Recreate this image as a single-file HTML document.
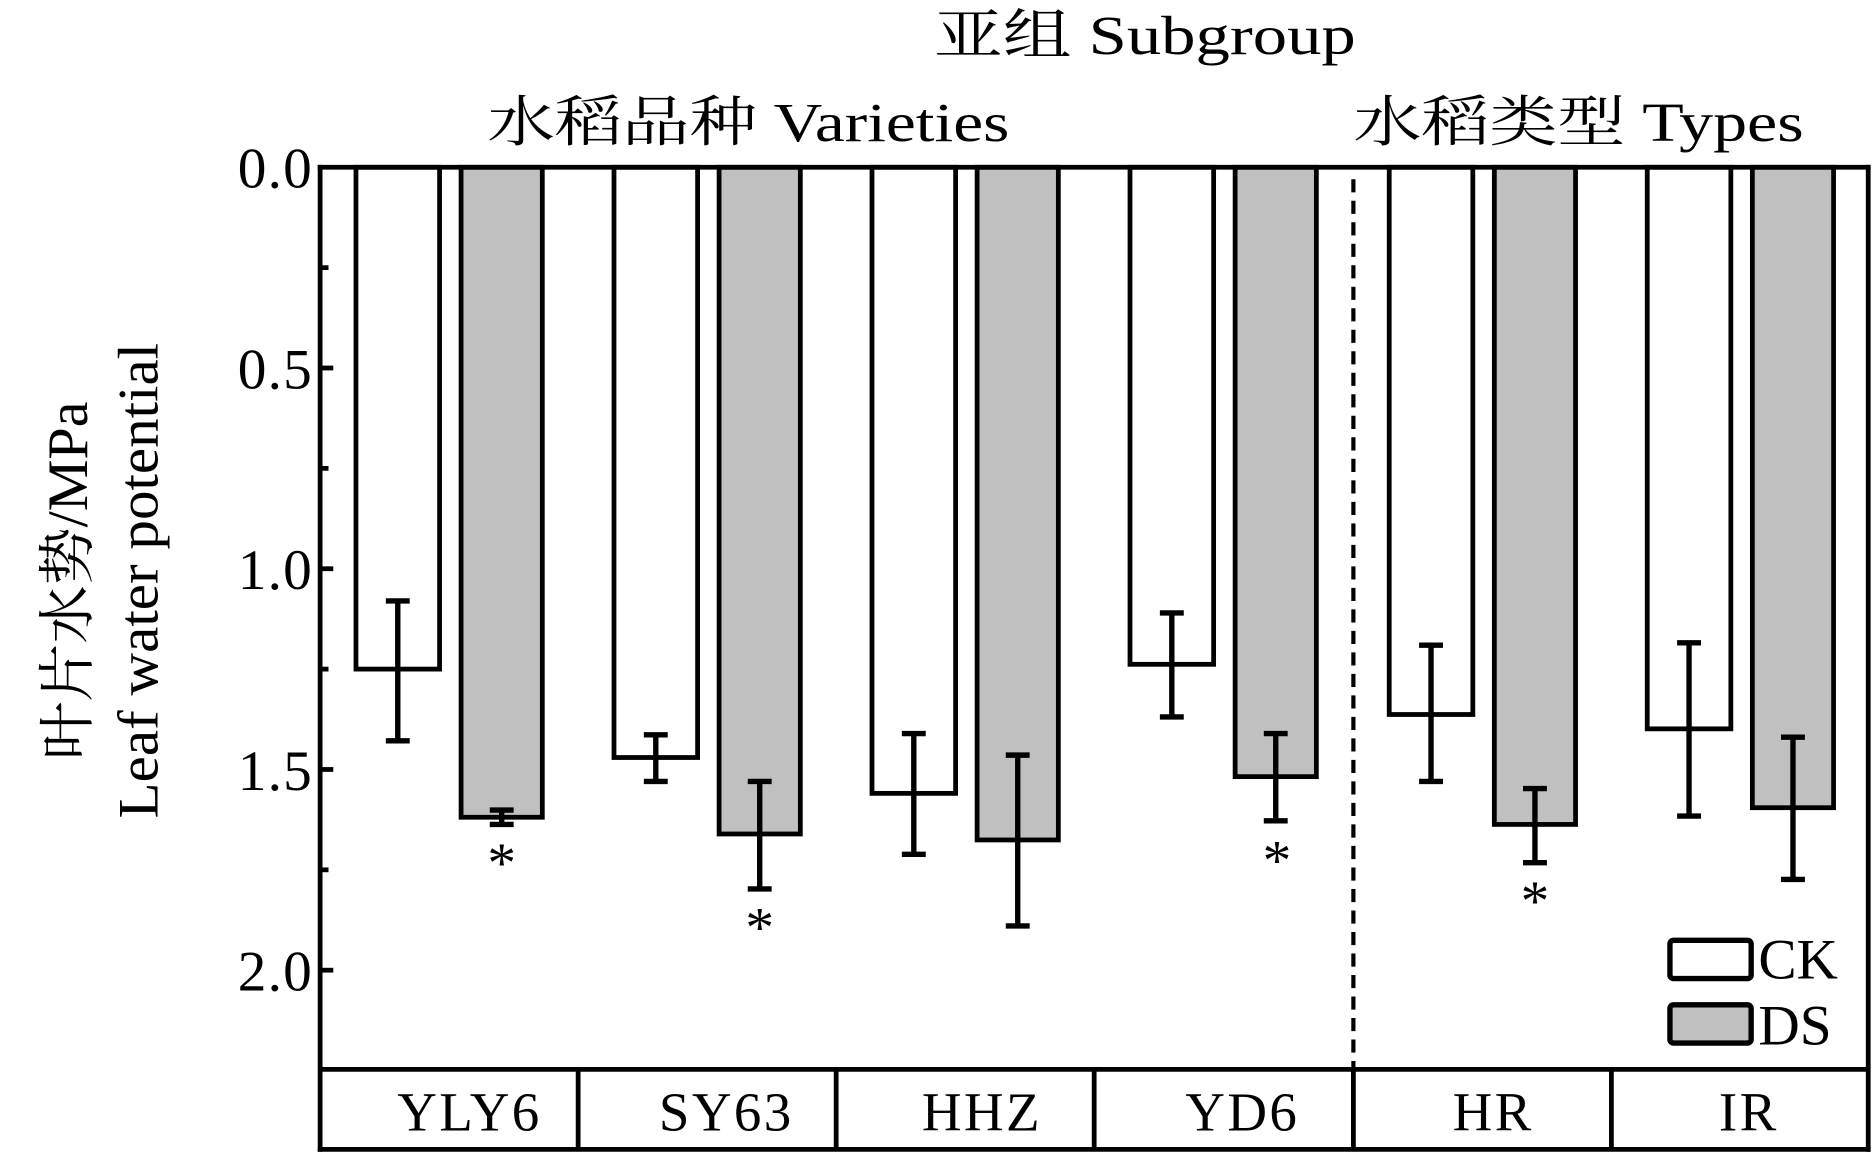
<!DOCTYPE html>
<html><head><meta charset="utf-8"><style>
html,body{margin:0;padding:0;background:#fff;}
svg{display:block;}
text{font-family:"Liberation Serif","Noto Serif CJK SC",serif;fill:#000;}
</style></head><body>
<svg width="1873" height="1153" viewBox="0 0 1568 965" preserveAspectRatio="none" xmlns="http://www.w3.org/2000/svg">
<rect width="1568" height="965" fill="#fff"/>
<text x="782" y="45" font-size="46" textLength="353" lengthAdjust="spacingAndGlyphs">亚组 Subgroup</text>
<text x="408" y="118" font-size="46" textLength="437" lengthAdjust="spacingAndGlyphs">水稻品种 Varieties</text>
<text x="1133" y="118" font-size="46" textLength="377" lengthAdjust="spacingAndGlyphs">水稻类型 Types</text>
<text transform="translate(73,486) rotate(-90)" font-size="48" text-anchor="middle" textLength="300" lengthAdjust="spacingAndGlyphs">叶片水势/MPa</text>
<text transform="translate(132,486) rotate(-90)" font-size="48" text-anchor="middle" textLength="398" lengthAdjust="spacingAndGlyphs">Leaf water potential</text>
<g font-size="48" text-anchor="end" letter-spacing="1">
<text x="262" y="157">0.0</text>
<text x="262" y="325">0.5</text>
<text x="262" y="493">1.0</text>
<text x="262" y="661">1.5</text>
<text x="262" y="829">2.0</text>
</g>
<g stroke="#000" stroke-width="4" fill="none">
<line x1="268" y1="308" x2="279" y2="308"/>
<line x1="268" y1="476" x2="279" y2="476"/>
<line x1="268" y1="644" x2="279" y2="644"/>
<line x1="268" y1="812" x2="279" y2="812"/>
<line x1="268" y1="224" x2="275" y2="224"/>
<line x1="268" y1="392" x2="275" y2="392"/>
<line x1="268" y1="560" x2="275" y2="560"/>
<line x1="268" y1="728" x2="275" y2="728"/>
</g>
<g stroke="#000" stroke-width="4">
<rect x="298" y="140" width="70" height="420" fill="#fff"/>
<rect x="386" y="140" width="68" height="544" fill="#c0c0c0"/>
<rect x="514" y="140" width="70" height="494" fill="#fff"/>
<rect x="602" y="140" width="68" height="558" fill="#c0c0c0"/>
<rect x="730" y="140" width="70" height="524" fill="#fff"/>
<rect x="818" y="140" width="68" height="563" fill="#c0c0c0"/>
<rect x="946" y="140" width="70" height="416" fill="#fff"/>
<rect x="1034" y="140" width="68" height="510" fill="#c0c0c0"/>
<rect x="1163" y="140" width="70" height="458" fill="#fff"/>
<rect x="1251" y="140" width="68" height="550" fill="#c0c0c0"/>
<rect x="1379" y="140" width="70" height="470" fill="#fff"/>
<rect x="1467" y="140" width="68" height="536" fill="#c0c0c0"/>
</g>
<g stroke="#000" stroke-width="4.5" fill="none">
<path d="M333 503V620M323 503H343M323 620H343"/>
<path d="M420 678V690M410 678H430M410 690H430"/>
<path d="M549 615V654M539 615H559M539 654H559"/>
<path d="M636 654V744M626 654H646M626 744H646"/>
<path d="M765 614V715M755 614H775M755 715H775"/>
<path d="M852 632V775M842 632H862M842 775H862"/>
<path d="M981 513V600M971 513H991M971 600H991"/>
<path d="M1068 614V687M1058 614H1078M1058 687H1078"/>
<path d="M1198 540V654M1188 540H1208M1188 654H1208"/>
<path d="M1285 660V722M1275 660H1295M1275 722H1295"/>
<path d="M1414 538V683M1404 538H1424M1404 683H1424"/>
<path d="M1501 617V736M1491 617H1511M1491 736H1511"/>
</g>
<g font-size="48" text-anchor="middle">
<text x="420" y="738">*</text>
<text x="636" y="792">*</text>
<text x="1069" y="736">*</text>
<text x="1285" y="770">*</text>
</g>
<g stroke="#000" stroke-width="4" fill="none">
<line x1="266" y1="140" x2="1566" y2="140"/>
<line x1="268" y1="138" x2="268" y2="964"/>
<line x1="1564" y1="138" x2="1564" y2="964"/>
<line x1="268" y1="895" x2="1564" y2="895"/>
<line x1="266" y1="962" x2="1566" y2="962"/>
<line x1="484" y1="895" x2="484" y2="962"/>
<line x1="700" y1="895" x2="700" y2="962"/>
<line x1="916" y1="895" x2="916" y2="962"/>
<line x1="1133" y1="895" x2="1133" y2="962"/>
<line x1="1349" y1="895" x2="1349" y2="962"/>
<line x1="1133" y1="150" x2="1133" y2="895" stroke-dasharray="11,7" stroke-width="3.5"/>
</g>
<g font-size="46" text-anchor="middle" letter-spacing="2">
<text x="393" y="946">YLY6</text>
<text x="608" y="946">SY63</text>
<text x="822" y="946">HHZ</text>
<text x="1040" y="946">YD6</text>
<text x="1250" y="946">HR</text>
<text x="1464" y="946">IR</text>
</g>
<rect x="1398" y="787" width="68" height="32" rx="3" fill="#fff" stroke="#000" stroke-width="4.5"/>
<rect x="1398" y="841" width="68" height="32" rx="3" fill="#c0c0c0" stroke="#000" stroke-width="4.5"/>
<text x="1472" y="819" font-size="48">CK</text>
<text x="1472" y="874" font-size="48">DS</text>
</svg>
</body></html>
